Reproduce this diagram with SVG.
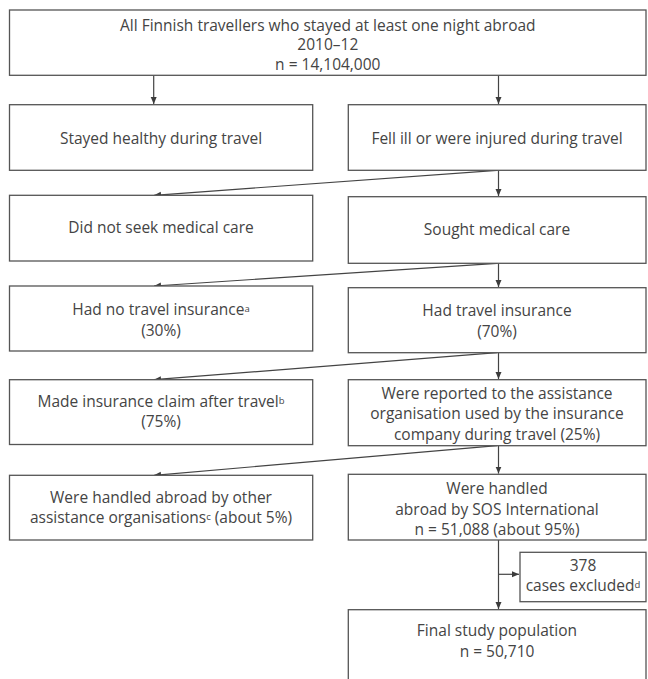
<svg xmlns="http://www.w3.org/2000/svg" width="648" height="679" viewBox="0 0 648 679">
<defs>
<marker id="ah" markerUnits="userSpaceOnUse" markerWidth="8" markerHeight="8" refX="7" refY="3" orient="auto">
<path d="M0,0 L7,3 L0,6 z" fill="#3c3c3c"/>
</marker>
<style>
.box{fill:#fff;stroke:#555;stroke-width:1.3}
.t{font-family:"Open Sans","Noto Sans","Liberation Sans",sans-serif;font-size:15.5px;font-weight:400;fill:#444;text-anchor:middle}
.sup{font-size:9.5px}
.c{fill:none;stroke:#444;stroke-width:1.2;marker-end:url(#ah)}
</style>
</defs>
<rect width="648" height="679" fill="#fff"/>
<g id="connectors">
<path class="c" d="M153.7,75.3 V104"/>
<path class="c" d="M498.5,75.3 V104"/>
<path class="c" d="M498.5,170.3 V196"/>
<path class="c" d="M497,170.3 L154,195.3"/>
<path class="c" d="M498.5,263.3 V287"/>
<path class="c" d="M497,263.3 L154,286"/>
<path class="c" d="M498.5,352.7 V379"/>
<path class="c" d="M497,352.7 L154,379.7"/>
<path class="c" d="M498.5,445.7 V473.6"/>
<path class="c" d="M497,445.7 L154,475.3"/>
<path class="c" d="M498.5,540 V609"/>
<path class="c" d="M498.5,574.3 H519"/>
</g>
<g id="n-all">
<rect class="box" x="9.5" y="10" width="636.5" height="65.3"/>
<text class="t" x="327.8" y="30.5">All Finnish travellers who stayed at least one night abroad</text>
<text class="t" x="327.8" y="50">2010–12</text>
<text class="t" x="327.8" y="69.5">n = 14,104,000</text>
</g>
<g id="n-healthy">
<rect class="box" x="9.5" y="104.7" width="303.2" height="65.6"/>
<text class="t" x="161" y="143.5">Stayed healthy during travel</text>
</g>
<g id="n-ill">
<rect class="box" x="348.3" y="104.7" width="297.7" height="65.6"/>
<text class="t" x="497" y="143.5">Fell ill or were injured during travel</text>
</g>
<g id="n-noseek">
<rect class="box" x="9.5" y="195.3" width="303.2" height="65.7"/>
<text class="t" x="161" y="233">Did not seek medical care</text>
</g>
<g id="n-sought">
<rect class="box" x="348.3" y="196.7" width="297.7" height="66.6"/>
<text class="t" x="497" y="235">Sought medical care</text>
</g>
<g id="n-noins">
<rect class="box" x="9.5" y="286" width="303.2" height="65"/>
<text class="t" x="161" y="314.5">Had no travel insurance<tspan class="sup" baseline-shift="35%">a</tspan></text>
<text class="t" x="161" y="335.5">(30%)</text>
</g>
<g id="n-ins">
<rect class="box" x="348.3" y="287.7" width="297.7" height="65"/>
<text class="t" x="497" y="316">Had travel insurance</text>
<text class="t" x="497" y="337">(70%)</text>
</g>
<g id="n-claim">
<rect class="box" x="9.5" y="379.7" width="303.2" height="64.8"/>
<text class="t" x="161" y="406.5">Made insurance claim after travel<tspan class="sup" baseline-shift="35%">b</tspan></text>
<text class="t" x="161" y="427">(75%)</text>
</g>
<g id="n-reported">
<rect class="box" x="348.3" y="379.7" width="297.7" height="66"/>
<text class="t" x="497" y="398.5">Were reported to the assistance</text>
<text class="t" x="497" y="419">organisation used by the insurance</text>
<text class="t" x="497" y="439.5">company during travel (25%)</text>
</g>
<g id="n-other">
<rect class="box" x="9.5" y="475.3" width="303.2" height="64.7"/>
<text class="t" x="161" y="502.5">Were handled abroad by other</text>
<text class="t" x="161" y="523">assistance organisations<tspan class="sup" baseline-shift="35%">c</tspan> (about 5%)</text>
</g>
<g id="n-sos">
<rect class="box" x="348.3" y="474.3" width="297.7" height="65.7"/>
<text class="t" x="497" y="494">Were handled</text>
<text class="t" x="497" y="514.7">abroad by SOS International</text>
<text class="t" x="497" y="535.3">n = 51,088 (about 95%)</text>
</g>
<g id="n-excluded">
<rect class="box" x="520" y="552.3" width="126" height="49.4"/>
<text class="t" x="583" y="570.5">378</text>
<text class="t" x="583" y="591">cases excluded<tspan class="sup" baseline-shift="35%">d</tspan></text>
</g>
<g id="n-final">
<rect class="box" x="348.3" y="609.7" width="297.7" height="80"/>
<text class="t" x="497" y="636">Final study population</text>
<text class="t" x="497" y="657">n = 50,710</text>
</g>
</svg>
